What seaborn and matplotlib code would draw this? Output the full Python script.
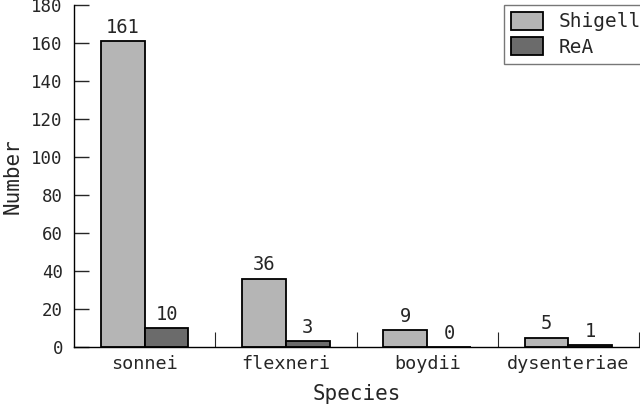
import matplotlib
matplotlib.use("Agg")
import matplotlib.pyplot as plt
import seaborn as sns
import pandas as pd
from matplotlib.ticker import FixedLocator

species = ["sonnei", "flexneri", "boydii", "dysenteriae"]
shigella = [161, 36, 9, 5]
rea = [10, 3, 0, 1]
series_names = ["Shigella", "ReA"]
yticks = [0, 20, 40, 60, 80, 100, 120, 140, 160, 180]

df = pd.DataFrame({
    "Species": species * 2,
    "Number": shigella + rea,
    "Group": [series_names[0]] * len(species) + [series_names[1]] * len(species),
})

sns.set_style("white")
plt.rcParams["font.family"] = ["DejaVu Sans Mono"]

fig = plt.figure(figsize=(6.4, 4.04), dpi=100)
ax = fig.add_axes([74 / 640, 57 / 404, 565 / 640, 342 / 404])

sns.barplot(data=df, x="Species", y="Number", hue="Group", order=species,
            hue_order=series_names, palette=["#b5b5b5", "#6b6b6b"],
            edgecolor="black", linewidth=1.3, width=0.62, gap=0,
            saturation=1, ax=ax)

for cont in ax.containers:
    ax.bar_label(cont, padding=3, fontsize=13.5)

ax.set_xlim(-0.5, 3.5)
ax.set_ylim(0, 180)
ax.set_yticks(yticks)
ax.tick_params(axis="y", direction="in", length=11, width=1, labelsize=12.5, pad=8, left=True)
ax.tick_params(axis="x", which="major", length=0, labelsize=13.3, pad=6)
ax.xaxis.set_minor_locator(FixedLocator([0.5, 1.5, 2.5, 3.5]))
ax.tick_params(axis="x", which="minor", direction="in", length=11, width=0.8, bottom=True)

for s in ["top", "right"]:
    ax.spines[s].set_visible(False)
for s in ["left", "bottom"]:
    ax.spines[s].set_visible(True)
    ax.spines[s].set_color("black")
    ax.spines[s].set_linewidth(1)

ax.set_xlabel("Species", fontsize=15, labelpad=8)
ax.set_ylabel("Number", fontsize=15, labelpad=6)

leg = ax.legend(loc="upper left", bbox_to_anchor=(504 / 640, 1 - 5 / 404),
                bbox_transform=fig.transFigure, borderaxespad=0,
                fontsize=14, handlelength=1.65, handleheight=1.05,
                labelspacing=0.3, borderpad=0.35,
                frameon=True, fancybox=False, title=None)
leg.get_frame().set_edgecolor("#555555")
leg.get_frame().set_linewidth(1)

fig.savefig("out.png", dpi=100)
